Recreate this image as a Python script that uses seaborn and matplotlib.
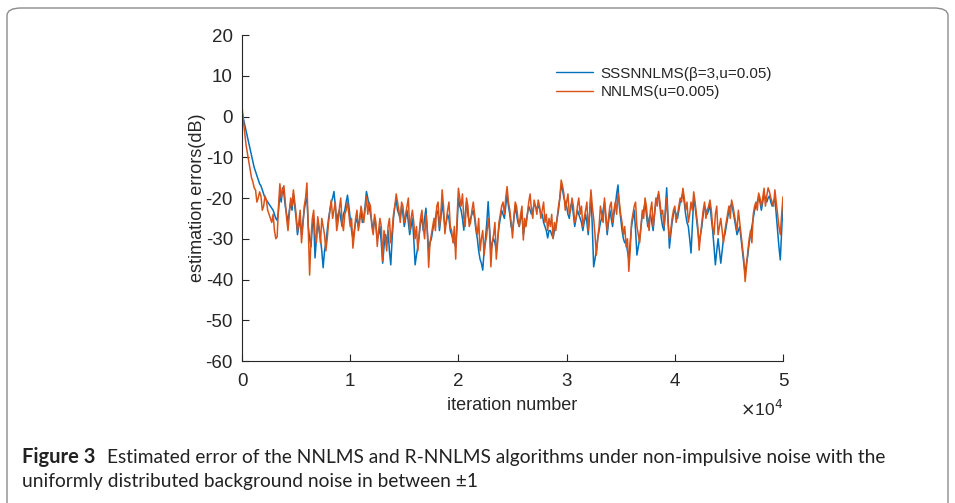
import numpy as np
import pandas as pd
import matplotlib
matplotlib.use('Agg')
import matplotlib.pyplot as plt
import seaborn as sns
from matplotlib.patches import FancyBboxPatch

sss_err = [1, -0.5, -2, -3.5, -5, -6.5, -8, -9.5, -11, -12.5, -13.5, -14.5, -15.5, -16.5, -17, -18,
           -19, -20, -20.5, -21, -21.5, -22, -22.5, -23, -24, -25, -25.5, -23, -19, -21, -17.5, -19,
           -22, -24, -26, -23, -21, -23, -19, -22, -25, -29, -27, -25, -29, -26, -23, -21, -20, -27,
           -30, -32, -27, -25, -34.7, -30, -26, -28, -30, -33, -37.1, -33, -31, -28, -25, -23, -21,
           -20, -18.4, -22, -26, -24, -23, -25, -27, -24, -23, -21, -19.3, -22, -25, -28, -30, -28,
           -26, -25, -27, -25, -23, -26, -25, -22, -18.4, -20, -22, -24, -26, -28, -25, -27, -30,
           -29, -27, -31, -36, -32, -29, -31, -28, -33, -36.4, -30, -25, -22, -20.5, -23, -24, -25,
           -22, -24, -27, -25, -23, -26, -29, -27, -25, -30, -36.4, -34, -32, -29, -26, -25, -28,
           -25, -22.5, -28, -33, -31, -30, -28, -26, -25, -23, -24, -28, -25, -21, -24, -27, -26,
           -24, -25, -28, -29, -30, -31, -32, -27, -20, -22, -23, -25, -27.9, -24, -21, -24, -26,
           -25, -24, -23, -25, -28, -30, -33, -35, -36, -37.7, -33, -30, -26, -20.9, -27, -33, -31,
           -30, -31, -33, -30, -27, -25, -23, -24, -25, -22, -19, -22, -24, -27, -28, -25, -22, -24,
           -26, -27, -25, -24, -29, -27, -26, -24, -22, -23, -24, -23, -21.5, -22, -23, -22, -22.5,
           -24, -24, -26, -27, -28, -29.8, -28, -28, -29, -29.8, -28, -27, -25, -23, -20, -17, -18,
           -20, -21, -22, -24, -25, -22, -21, -24, -27, -25, -23, -24, -25, -26, -28, -26, -24, -26,
           -29, -24, -19, -27, -36.9, -35, -33, -30, -28, -26, -25, -23, -21, -25, -29, -26, -23,
           -25, -27, -24, -22, -19, -16.8, -22, -25, -28, -30, -31, -31, -33, -35, -31, -27, -25,
           -23, -28, -34, -32, -30, -27, -24, -23, -21, -24, -27, -25, -24, -26, -28, -24, -21, -20,
           -19, -22, -25, -27, -28, -23, -17.5, -25, -32.3, -29, -26, -24, -23, -24, -25, -23, -21,
           -20, -18.5, -21, -24, -26, -27, -30, -33.5, -27, -20, -22, -25, -28, -31, -29, -27, -24,
           -22, -23, -24, -23, -21.5, -25, -28, -32, -36.4, -33, -30, -33, -36, -33, -30, -29, -27,
           -25, -23, -22, -21.5, -23, -25, -27, -29, -28, -27, -30, -33, -36, -38.5, -36, -34, -31,
           -29, -27, -25, -23, -22, -21, -19.5, -21, -23, -21, -19, -20, -21, -20, -19.5, -21, -22,
           -21, -20, -24, -28, -32, -35.2, -28, -21]
nn_err = [2.5, -1, -4, -7, -9, -11, -13, -15, -16, -17.5, -18, -21, -20, -18.5, -19.5, -23, -22,
          -19.5, -20.5, -23, -24, -25, -26, -24, -28, -30, -29.5, -22, -16.5, -20, -18, -17, -21,
          -25, -28, -24, -20, -22, -18, -21, -24, -28, -26, -23, -31, -27, -22, -20, -16.3, -28,
          -38.9, -30, -25, -23, -29, -31, -24.6, -27, -31, -25, -27, -29, -33, -30, -26, -23, -20.5,
          -25, -23, -21, -28, -26, -22.5, -20, -26, -28, -24, -23, -21, -24, -27, -25, -32.3, -29,
          -25, -23, -28, -26, -22, -24, -26, -23, -19.6, -24, -21, -22, -27, -29, -24, -26, -31.9,
          -28, -25, -27, -35.5, -28, -30, -33, -27, -25, -31, -28, -24, -22, -19, -21, -23, -26,
          -21, -22, -26, -24, -22, -20, -28, -25, -23, -26, -30, -27, -33, -29, -25, -23, -27, -30,
          -24, -28, -37, -31, -29, -27, -25, -28, -22, -21, -27, -24, -18, -22, -28.8, -26, -23,
          -21, -27, -28, -31, -27, -35, -25, -17.6, -20, -22, -19, -25, -27, -20, -22, -27, -26,
          -23, -21, -24, -27, -29, -25, -33, -30, -28, -34, -31, -29, -25, -28, -36.9, -31, -29,
          -26, -35, -31, -26, -24, -22, -21, -24, -20, -17.2, -21, -23, -26, -29.8, -25, -21, -22,
          -25, -27, -24, -22, -30.3, -25, -27, -24, -21, -19, -23, -25, -20.5, -22, -24, -20.5,
          -22, -25, -23, -21, -26, -24, -28, -25, -27, -24, -30, -26, -28, -25, -22, -20, -15.6,
          -17, -19, -23, -21, -19, -24, -23, -20, -22, -26, -25, -22, -20, -24, -22, -27, -25, -23,
          -21, -28, -24, -18, -22, -25, -29, -34, -30, -27, -22, -24, -26, -20, -24, -28, -25, -22,
          -21, -26, -23, -21, -24, -18.8, -21, -24, -26, -29, -27, -32, -30, -38, -33, -26, -24,
          -22, -21, -27, -29, -31, -27, -23, -25, -20, -22, -26, -28, -23, -21, -27, -24, -20, -22,
          -18.4, -21, -24, -23, -27, -24, -20, -26, -30, -28, -25, -23, -22, -26, -24, -22, -20,
          -21, -17.6, -20, -23, -21, -26, -24, -21, -23, -18.5, -21, -24, -27, -32.8, -29, -26, -23,
          -21, -25, -23, -22, -20.5, -23, -27, -29, -24, -22, -29, -27, -25, -28, -31, -28, -26,
          -24, -22, -25, -20.5, -22, -24, -26, -28, -23, -26, -29, -32, -35, -40.5, -37, -33, -30,
          -28, -31, -24, -22, -21, -23, -18.8, -20, -22, -20, -17.6, -22, -19.5, -17.5, -18.5, -20,
          -21, -22, -18, -21, -24, -27, -29, -24, -19.7]
labels = ['SSSNNLMS(\u03b2=3,u=0.05)', 'NNLMS(u=0.005)']
colors = ['#0072BD', '#D95319']
n_iter = 50000

df = pd.concat([
    pd.DataFrame({'iter': np.linspace(0, n_iter, len(sss_err)), 'err': sss_err, 'alg': labels[0]}),
    pd.DataFrame({'iter': np.linspace(0, n_iter, len(nn_err)), 'err': nn_err, 'alg': labels[1]}),
])

sns.set_style('white')
plt.rcParams['font.family'] = ['Liberation Sans', 'DejaVu Sans']
plt.rcParams['axes.unicode_minus'] = False

fig = plt.figure(figsize=(9.55, 5.03), dpi=100)
ax = fig.add_axes([242 / 955, 142 / 503, 541 / 955, 326 / 503])

sns.lineplot(data=df, x='iter', y='err', hue='alg', palette=colors,
             estimator=None, linewidth=1.1, ax=ax)

ax.set_xlim(0, n_iter)
ax.set_ylim(-60, 20)
ax.set_xticks([0, 10000, 20000, 30000, 40000, 50000])
ax.set_xticklabels(['0', '1', '2', '3', '4', '5'])
yt = [20, 10, 0, -10, -20, -30, -40, -50, -60]
ax.set_yticks(yt)
ax.set_yticklabels([str(v) for v in yt])
ax.tick_params(direction='in', length=5, width=0.8, colors='#262626',
               labelsize=13.5, left=True, bottom=True)
ax.tick_params(axis='x', pad=9)
ax.tick_params(axis='y', pad=6.5)
for s in ['top', 'right']:
    ax.spines[s].set_visible(False)
for s in ['left', 'bottom']:
    ax.spines[s].set_color('#262626')
    ax.spines[s].set_linewidth(0.8)

ax.set_xlabel('iteration number', fontsize=13, color='#262626', labelpad=5)
ax.set_ylabel('estimation errors(dB)', fontsize=13, color='#262626', labelpad=0)
ax.text(1.0, -0.115, r'$\times$10$^4$', transform=ax.transAxes, ha='right', va='top',
        fontsize=12.5, color='#262626')

leg = ax.legend(loc='upper left', bbox_to_anchor=(0.555, 0.945), frameon=False,
                fontsize=11, handlelength=2.4, handletextpad=0.5, labelspacing=0.3)
for line in leg.get_lines():
    line.set_linewidth(1.0)

# rounded frame and caption
frame = FancyBboxPatch((7 / 955, -0.05), 941 / 955, 1 - 8 / 503 + 0.05,
                       boxstyle='round,pad=0,rounding_size=0.015',
                       transform=fig.transFigure, fill=False,
                       edgecolor='#8c8c8c', linewidth=1.0)
fig.patches.append(frame)
cap_font = ['Lato', 'DejaVu Sans']
fig.text(22 / 955, 1 - 457 / 503, 'Figure 3', fontsize=14.5, fontweight='bold',
         family=cap_font, va='center', color='#222222')
fig.text(107 / 955, 1 - 457 / 503,
         'Estimated error of the NNLMS and R-NNLMS algorithms under non-impulsive noise with the',
         fontsize=13.8, family=cap_font, va='center', color='#222222')
fig.text(22 / 955, 1 - 482 / 503,
         'uniformly distributed background noise in between \u00b11',
         fontsize=13.8, family=cap_font, va='center', color='#222222')

plt.savefig('out.png', dpi=100)
